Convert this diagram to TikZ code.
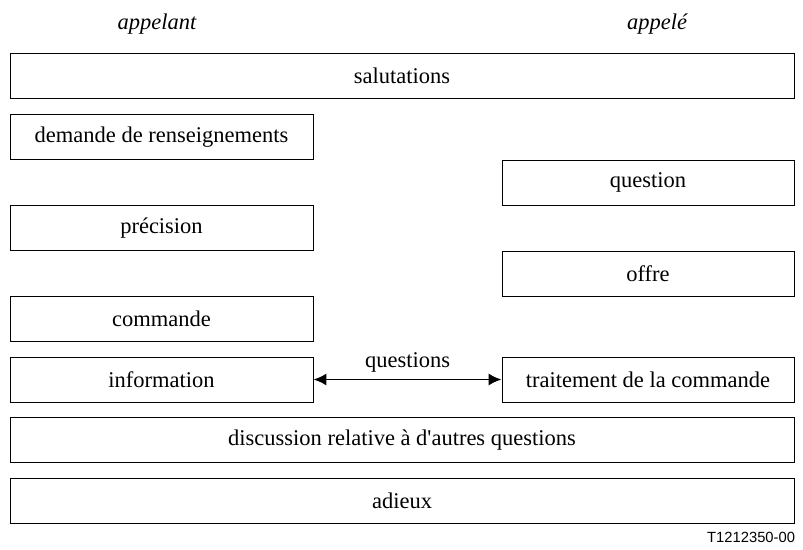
\documentclass[tikz,border=0pt]{standalone}
\usepackage{fontspec}
\setmainfont{Liberation Serif}
\newfontfamily\figfont{Liberation Sans}
\usetikzlibrary{arrows.meta,positioning}

\begin{document}
\begin{tikzpicture}[>=Latex,node distance=1.1375cm,on grid,
  every node/.style={font=\fontsize{16}{19}\selectfont},
  phase/.style={draw,line width=0.7pt,minimum height=1.125cm,inner sep=0pt},
  side/.style={phase,minimum width=7.575cm},
  callee side/.style={phase,minimum width=7.3cm},
  wide/.style={phase,minimum width=19.6cm}]
  \useasboundingbox (0,0) rectangle (20.075,-13.725);
  \node[font=\fontsize{16}{19}\selectfont\itshape] (caller) at (3.925,-0.6) {appelant};
  \node[font=\fontsize{16}{19}\selectfont\itshape] (called) at (16.425,-0.6) {appelé};
  \node[wide] (greet) at (10.05,-1.9) {salutations};
  \node[side] (inquiry) at (4.0375,-3.425) {demande de renseignements};
  \node[callee side] (question) [below right=1.1375cm and 12.1625cm of inquiry] {question};
  \node[side] (detail) [below=2.275cm of inquiry] {précision};
  \node[callee side] (offer) [below=2.275cm of question] {offre};
  \node[side] (order) [below=2.275cm of detail] {commande};
  \node[side] (info) [below=1.5125cm of order] {information};
  \node[callee side] (process) [right=12.1625cm of info] {traitement de la commande};
  \node[wide] (other) at (10.05,-11.0) {discussion relative à d\textquotesingle autres questions};
  \node[wide] (bye) [below=1.5125cm of other] {adieux};
  \node[anchor=east,font=\fontsize{10.5}{12}\figfont] (ref) at (20.0,-13.425) {T1212350-00};
  \draw[{Latex[length=0.32cm,width=0.3cm]}-{Latex[length=0.32cm,width=0.3cm]},line width=1.3pt]
    (info) -- (process) node[midway,yshift=0.42cm] (qlabel) {questions};
\end{tikzpicture}
\end{document}
